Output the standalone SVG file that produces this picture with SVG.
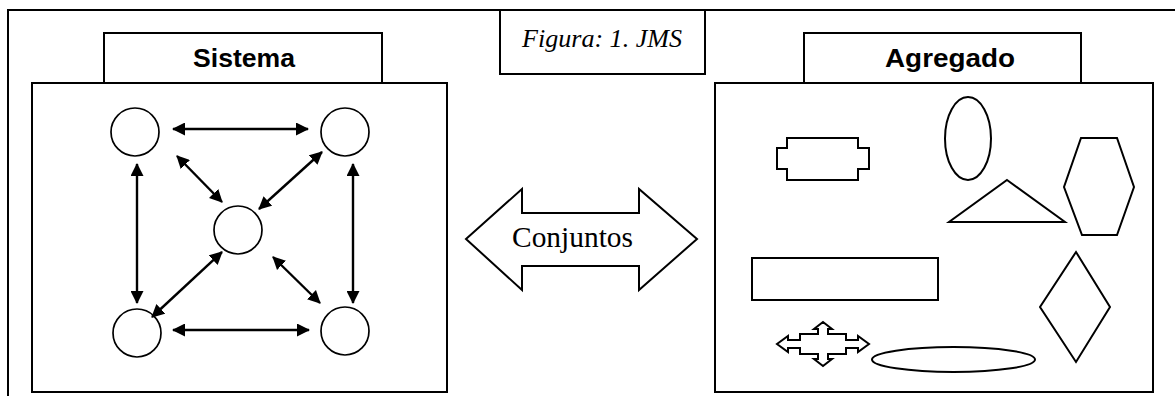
<svg xmlns="http://www.w3.org/2000/svg" width="1175" height="396" viewBox="0 0 1175 396">
<style>
.ln{fill:none;stroke:#000;stroke-width:2}
.sh{fill:#fff;stroke:#000;stroke-width:2}
.nd{fill:#fff;stroke:#000;stroke-width:1.7}
.ar{fill:none;stroke:#000;stroke-width:2.4;marker-start:url(#ah);marker-end:url(#ah)}
.hd{font-family:"Liberation Sans",Arial,sans-serif;font-weight:bold;font-size:25px;text-anchor:middle}
</style>
<defs>
<marker id="ah" viewBox="0 0 13 13" refX="12" refY="6.5" markerWidth="13" markerHeight="13" markerUnits="userSpaceOnUse" orient="auto-start-reverse">
<path d="M0,0 L13,6.5 L0,13 z" fill="#000"/>
</marker>
</defs>
<rect width="1175" height="396" fill="#fff"/>
<g id="frame">
<path class="ln" d="M8,396 V10 H1175"/>
</g>
<g id="figura">
<rect class="sh" x="500" y="10" width="205" height="64"/>
<text x="522" y="47" font-family="'Liberation Serif','Times New Roman',serif" font-style="italic" font-size="25" textLength="160" lengthAdjust="spacingAndGlyphs">Figura: 1. JMS</text>
</g>
<g id="sistema">
<rect class="sh" x="104" y="33" width="278" height="50"/>
<text class="hd" x="244" y="67" textLength="102" lengthAdjust="spacingAndGlyphs">Sistema</text>
<rect class="sh" x="32" y="83" width="415" height="309"/>
</g>
<g id="n1"><circle class="nd" cx="135" cy="132" r="24"/></g>
<g id="n2"><circle class="nd" cx="345" cy="132" r="24"/></g>
<g id="n3"><circle class="nd" cx="238" cy="230" r="24"/></g>
<g id="n4"><circle class="nd" cx="137" cy="333" r="24"/></g>
<g id="n5"><circle class="nd" cx="345" cy="331" r="24"/></g>
<g id="connectors">
<line class="ar" x1="173" y1="129" x2="308" y2="129"/>
<line class="ar" x1="173" y1="330" x2="309" y2="330"/>
<line class="ar" x1="137" y1="164" x2="137" y2="303"/>
<line class="ar" x1="353" y1="164" x2="353" y2="303"/>
<line class="ar" x1="177" y1="156" x2="222" y2="202"/>
<line class="ar" x1="322" y1="152" x2="259" y2="209"/>
<line class="ar" x1="222" y1="252" x2="152" y2="317"/>
<line class="ar" x1="273" y1="257" x2="320" y2="303"/>
</g>
<g id="conjuntos">
<polygon class="sh" points="466,239 522,189 522,213 639,213 639,189 697,239 639,290 639,266 522,266 522,290"/>
<text x="512" y="247" font-family="'Liberation Serif','Times New Roman',serif" font-size="29" textLength="121" lengthAdjust="spacingAndGlyphs">Conjuntos</text>
</g>
<g id="agregado">
<rect class="sh" x="804" y="33" width="277" height="50"/>
<text class="hd" x="950" y="67" textLength="130" lengthAdjust="spacingAndGlyphs">Agregado</text>
<rect class="sh" x="715" y="83" width="438" height="309"/>
</g>
<g id="shapes">
<polygon class="ln" points="787,138 858,138 858,148 869,148 869,169 858,169 858,180 787,180 787,169 777,169 777,148 787,148"/>
<ellipse class="ln" cx="968" cy="138.5" rx="23" ry="41.5"/>
<polygon class="ln" points="1007,180 1065,222 949,222"/>
<polygon class="ln" points="1081,138 1117,138 1134,187 1117,235 1082,235 1064,187"/>
<rect class="ln" x="752" y="258" width="186" height="42"/>
<polygon class="ln" points="1076,252 1110,307 1076,362 1040,307"/>
<ellipse class="ln" cx="953.5" cy="359.5" rx="81.5" ry="12.5"/>
<polygon class="ln" stroke-width="1.6" points="823,322 832,329 828,329 828,334 846,334 846,340 858,340 858,336 869,344 858,352 858,348 846,348 846,354 828,354 828,359 832,359 823,366 814,359 818,359 818,354 800,354 800,348 788,348 788,352 777,344 788,336 788,340 800,340 800,334 818,334 818,329 814,329"/>
</g>
</svg>
